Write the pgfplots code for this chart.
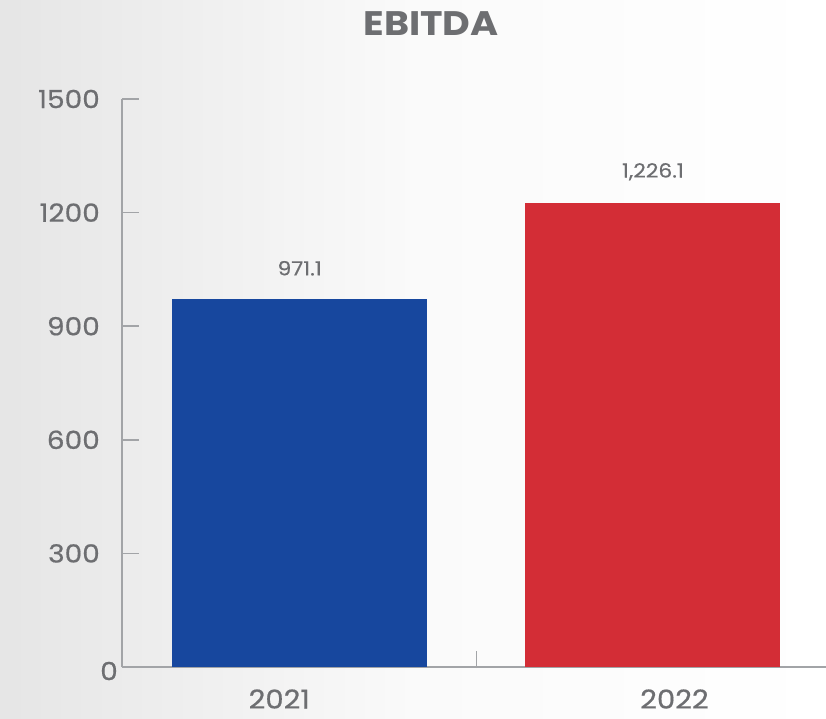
\documentclass[border=0pt]{standalone}
\usepackage{fontspec}
\setmainfont{Poppins}[FakeStretch=1.12, FakeBold=0.6]
\newfontfamily\titlefont{Poppins}[FakeStretch=1.12]
\usepackage{pgfplots}
\pgfplotsset{compat=1.18}
\definecolor{txt}{HTML}{6D6E71}
\definecolor{axc}{HTML}{A2A4A7}
\definecolor{bblue}{HTML}{17479E}
\definecolor{bred}{HTML}{D32D36}
\begin{document}
\begin{tikzpicture}[x=1pt,y=1pt]
\shade[left color=black!10, right color=white, middle color=black!2] (0,0) rectangle (826,718);
\begin{axis}[
  at={(122pt,51pt)}, anchor=south west,
  scale only axis, width=704pt, height=568pt,
  xmin=-0.503, xmax=1.49, ymin=0, ymax=1500,
  axis lines=left,
  axis line style={-, draw=axc, line width=1.6pt},
  tick style={draw=axc, line width=1.6pt},
  tick align=inside,
  major tick length=17pt,
  x tick style={yshift=16pt},
  ytick={300,600,900,1200,1500},
  xtick={0.5}, xticklabels={},
  extra x ticks={-0.058,1.061},
  extra x tick labels={2021,2022},
  extra x tick style={major tick length=0pt, tick style={draw=none},
     xticklabel style={anchor=center, yshift=-32pt, font=\fontsize{26}{30}\selectfont}},
  extra y ticks={0},
  extra y tick labels={0},
  extra y tick style={major tick length=0pt, tick style={draw=none}, yticklabel style={xshift=18pt, yshift=-4pt}},
  yticklabel style={anchor=east, inner sep=0pt, xshift=-22pt},
  ticklabel style={font=\fontsize{25}{30}\selectfont, text=txt},
  /pgf/number format/assume math mode=true,
  /pgf/number format/1000 sep={},
  ybar, bar width=255pt,
  clip=false,
  nodes near coords,
  point meta=explicit symbolic,
  nodes near coords style={font=\fontsize{19.5}{22}\selectfont, text=txt, anchor=center, yshift=31pt},
]
\addplot[fill=bblue, draw=none, bar shift=0pt] coordinates {(0,971.1) [971.1]};
\addplot[fill=bred, draw=none, bar shift=0pt] coordinates {(1,1226.1) [{1,226.1}]};
\end{axis}
\node[text=txt, font=\fontsize{34}{36}\titlefont\bfseries] at (431,694) {EBITDA};
\pgfresetboundingbox
\path (0,0) rectangle (826,718);
\end{tikzpicture}
\end{document}
